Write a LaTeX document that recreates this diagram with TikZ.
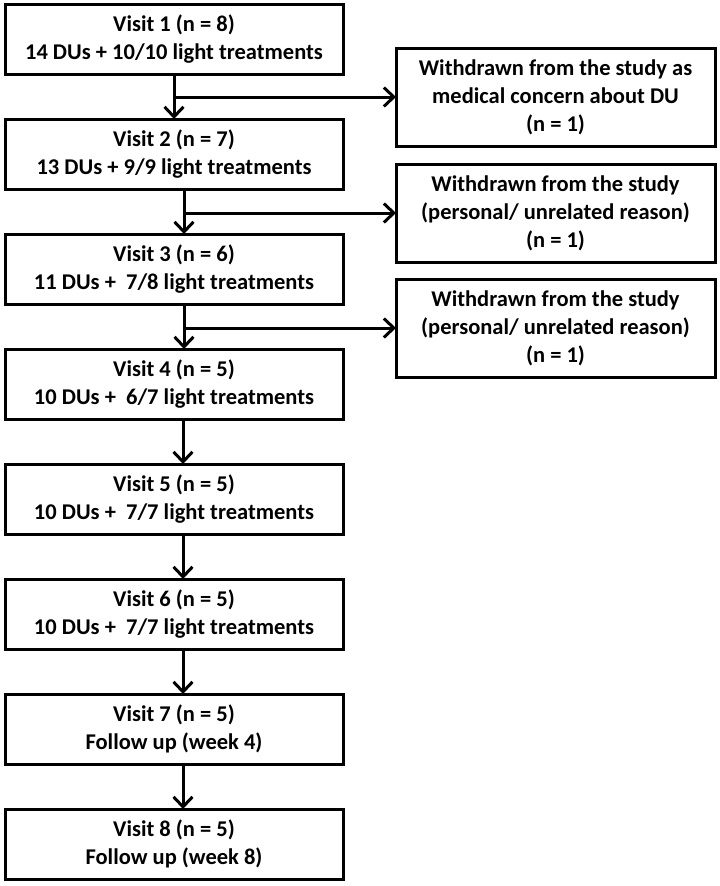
\documentclass[tikz,border=0pt]{standalone}
\usepackage{fontspec}
\setmainfont{Carlito}
\usetikzlibrary{positioning,arrows.meta}

\tikzset{
  visit/.style={draw, line width=3pt, minimum width=338pt, minimum height=70pt,
    inner sep=0pt, outer sep=0pt, align=center,
    font=\bfseries\fontsize{22.5}{28}\selectfont},
  dropout/.style={visit, minimum width=319pt, minimum height=98pt},
  arr/.style={line width=3pt, -{Straight Barb[length=10pt,width=19pt,line width=3pt]}},
}

\begin{document}
\begin{tikzpicture}[x=1pt,y=1pt]
\useasboundingbox (0,0) rectangle (720,-886);
% visits down the left
\node[visit] (v1) at (174,-39) {Visit 1 (n = 8)\\14 DUs + 10/10 light treatments};
\node[visit, below=45pt of v1] (v2) {Visit 2 (n = 7)\\13 DUs + 9/9 light treatments};
\node[visit, below=45pt of v2] (v3) {Visit 3 (n = 6)\\11 DUs +\ \ 7/8 light treatments};
\node[visit, below=45pt of v3] (v4) {Visit 4 (n = 5)\\10 DUs +\ \ 6/7 light treatments};
\node[visit, below=45pt of v4] (v5) {Visit 5 (n = 5)\\10 DUs +\ \ 7/7 light treatments};
\node[visit, below=45pt of v5] (v6) {Visit 6 (n = 5)\\10 DUs +\ \ 7/7 light treatments};
\node[visit, below=45pt of v6] (v7) {Visit 7 (n = 5)\\Follow up (week 4)};
\node[visit, below=45pt of v7] (v8) {Visit 8 (n = 5)\\Follow up (week 8)};

% withdrawals on the right
\node[dropout] (w1) at (555.5,-97) {Withdrawn from the study as\\medical concern about DU\\(n = 1)};
\node[dropout] (w2) at (555.5,-213) {Withdrawn from the study\\(personal/ unrelated reason)\\(n = 1)};
\node[dropout] (w3) at (555.5,-328) {Withdrawn from the study\\(personal/ unrelated reason)\\(n = 1)};

% arrows
\draw[arr] (v1.south) -- (v2.north);
\draw[arr] (v1.south |- w1.west) -- (w1.west);
\draw[arr] ([xshift=10pt]v2.south) -- ([xshift=10pt]v3.north);
\draw[arr] ([xshift=10pt]v2.south |- w2.west) -- (w2.west);
\draw[arr] ([xshift=10pt]v3.south) -- ([xshift=10pt]v4.north);
\draw[arr] ([xshift=10pt]v3.south |- w3.west) -- (w3.west);
\draw[arr] ([xshift=9pt]v4.south) -- ([xshift=9pt]v5.north);
\draw[arr] ([xshift=9pt]v5.south) -- ([xshift=9pt]v6.north);
\draw[arr] ([xshift=9pt]v6.south) -- ([xshift=9pt]v7.north);
\draw[arr] ([xshift=9pt]v7.south) -- ([xshift=9pt]v8.north);
\end{tikzpicture}
\end{document}
